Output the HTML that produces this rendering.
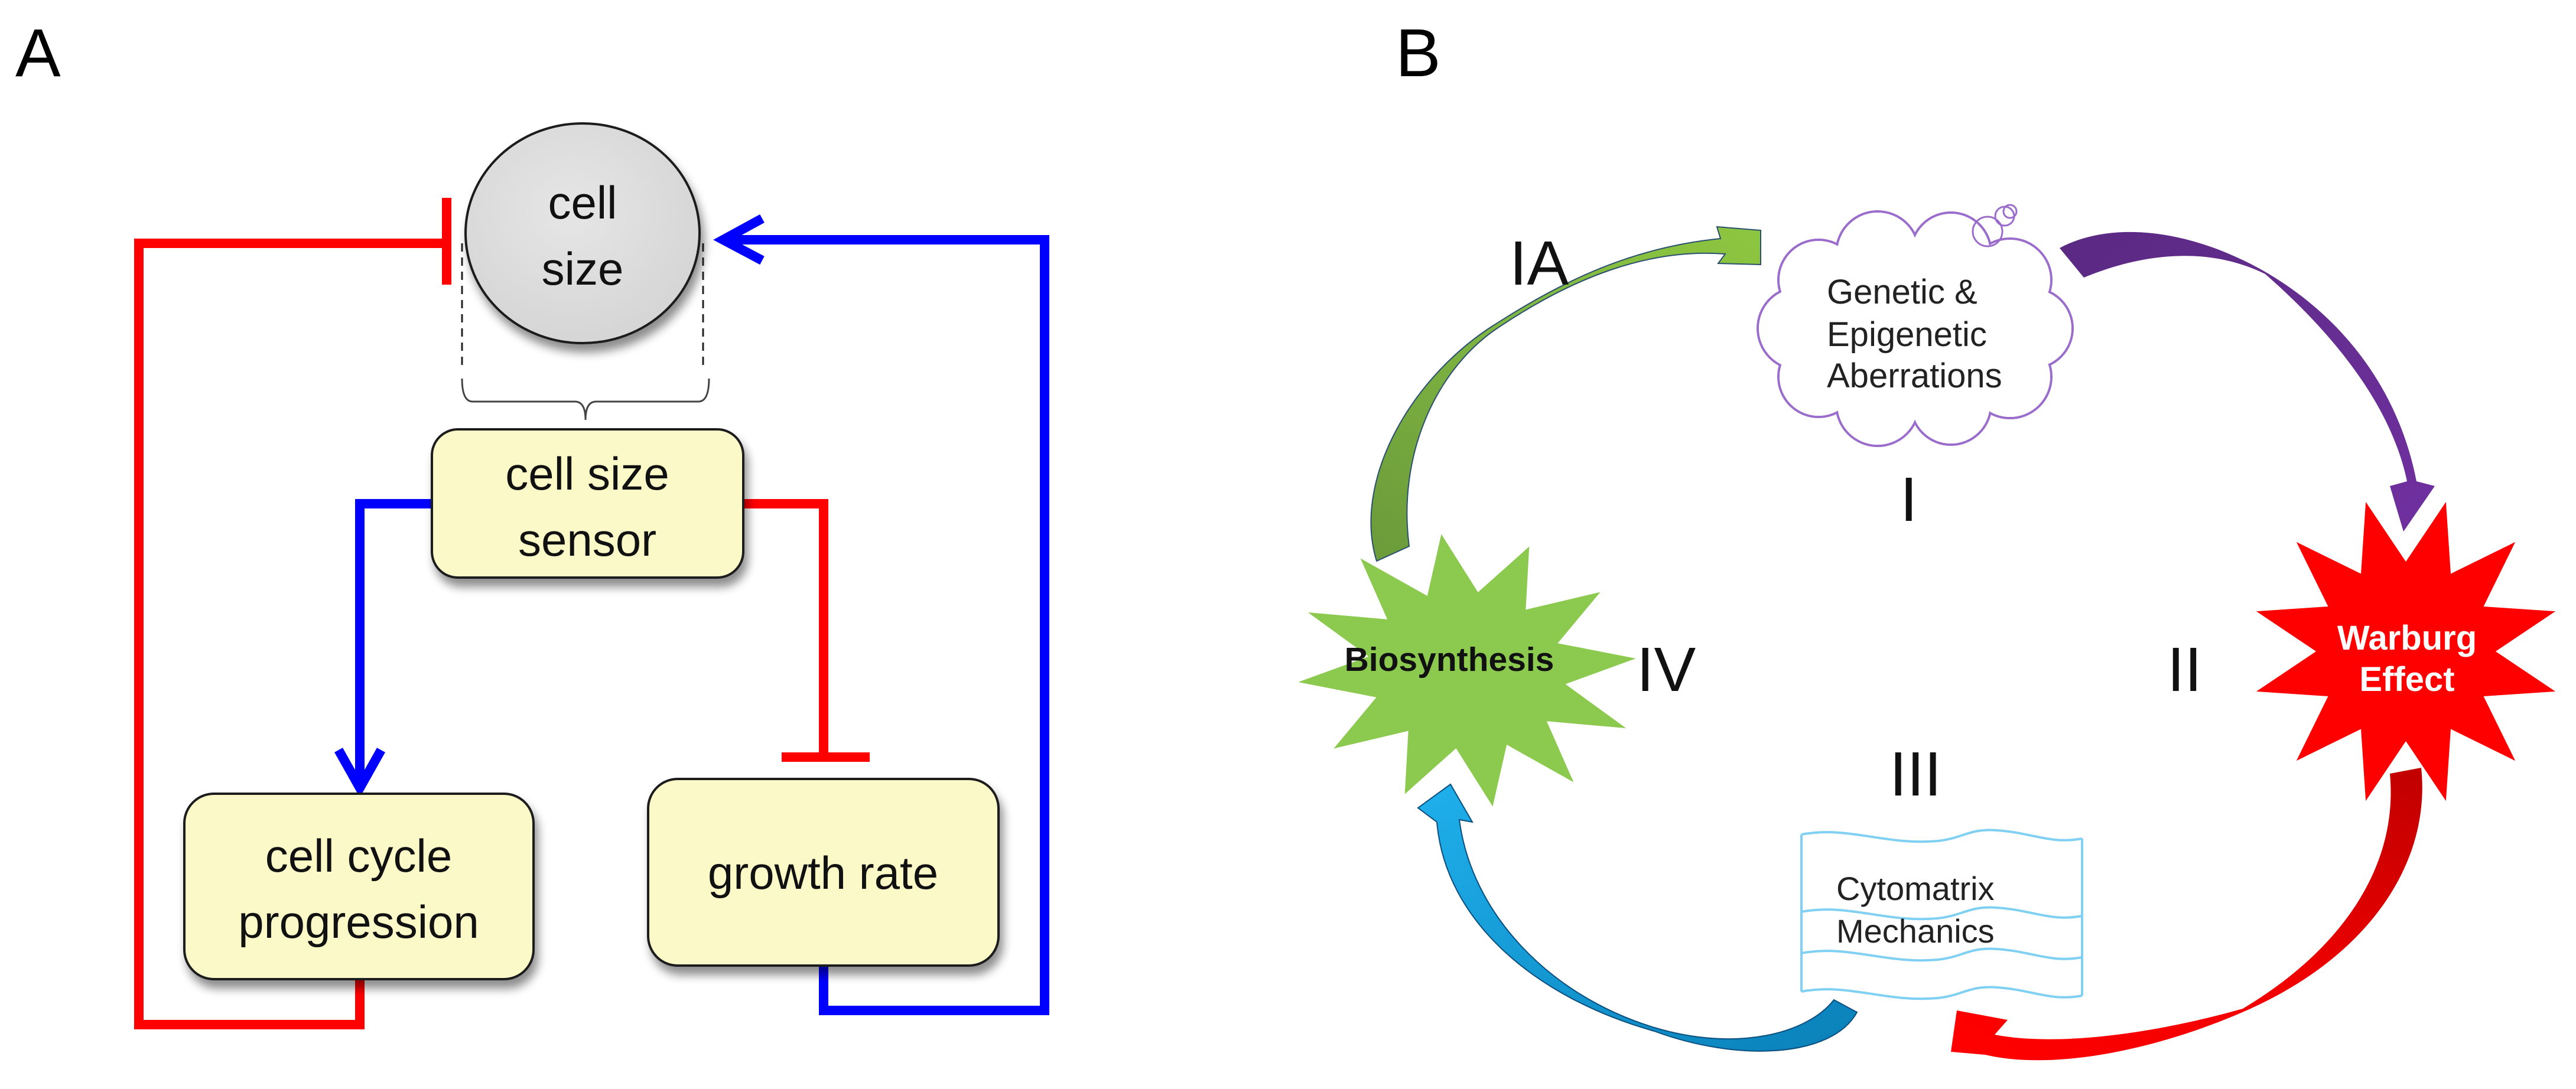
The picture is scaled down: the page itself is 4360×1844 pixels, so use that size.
<!DOCTYPE html>
<html><head><meta charset="utf-8"><style>
html,body{margin:0;padding:0;background:#fff;}
svg{display:block;}
</style></head><body>
<svg width="4360" height="1844" viewBox="0 0 4360 1844" xmlns="http://www.w3.org/2000/svg" font-family="Liberation Sans, Arial, sans-serif">
<defs>
<filter id="sh" x="-20%" y="-20%" width="140%" height="150%">
<feGaussianBlur in="SourceAlpha" stdDeviation="8"/><feOffset dx="6" dy="14" result="o"/>
<feComponentTransfer><feFuncA type="linear" slope="0.45"/></feComponentTransfer>
<feMerge><feMergeNode/><feMergeNode in="SourceGraphic"/></feMerge></filter>
<radialGradient id="cg" cx="45%" cy="40%" r="65%"><stop offset="0" stop-color="#e6e6e6"/><stop offset="1" stop-color="#d4d4d4"/></radialGradient>
<linearGradient id="gg" x1="0" y1="1" x2="1" y2="0"><stop offset="0" stop-color="#6b9a3a"/><stop offset="0.5" stop-color="#7fb542"/><stop offset="1" stop-color="#8dc63f"/></linearGradient>
<linearGradient id="pg" x1="0" y1="0" x2="1" y2="1"><stop offset="0" stop-color="#5a2a82"/><stop offset="1" stop-color="#7030a0"/></linearGradient>
<linearGradient id="rg" x1="1" y1="0" x2="0" y2="1"><stop offset="0" stop-color="#c00000"/><stop offset="0.5" stop-color="#f00000"/><stop offset="1" stop-color="#ff0000"/></linearGradient>
<linearGradient id="bg" x1="0" y1="0" x2="1" y2="1"><stop offset="0" stop-color="#1fb0ec"/><stop offset="1" stop-color="#0a80b8"/></linearGradient>
</defs>

<!-- Panel A -->
<text x="26" y="129" font-size="115" fill="#000">A</text>

<g fill="none" stroke-width="16">
<path d="M753,412 H235 V1735 H609 V1650" stroke="#ff0000"/>
<line x1="756" y1="335" x2="756" y2="482" stroke="#ff0000"/>
<path d="M1394,1630 V1711 H1768 V406 H1228" stroke="#0000ff"/>
<polyline points="1290,370 1224,406 1290,441" stroke="#0000ff" stroke-linejoin="miter"/>
<path d="M735,853 H609 V1332" stroke="#0000ff"/>
<polyline points="573,1270 609,1334 645,1270" stroke="#0000ff"/>
<path d="M1255,853 H1394 V1282" stroke="#ff0000"/>
<line x1="1323" y1="1282" x2="1472" y2="1282" stroke="#ff0000"/>
</g>

<g stroke="#222" stroke-width="3" fill="none">
<line x1="782" y1="412" x2="782" y2="623" stroke-dasharray="14 10"/>
<line x1="1190" y1="412" x2="1190" y2="623" stroke-dasharray="14 10"/>
<path d="M782,641 Q782,680 800,680 H973 Q991,680 991,711 Q991,680 1009,680 H1182 Q1200,680 1200,641" stroke="#444"/>
</g>

<ellipse cx="986" cy="395" rx="198" ry="186" fill="url(#cg)" stroke="#1a1a1a" stroke-width="4" filter="url(#sh)"/>
<g font-size="78" fill="#111" text-anchor="middle">
<text x="986" y="370">cell</text>
<text x="986" y="482">size</text>
</g>

<g fill="#fcf9c9" stroke="#1a1a1a" stroke-width="4" filter="url(#sh)">
<rect x="731" y="727" width="527" height="251" rx="44"/>
<rect x="312" y="1344" width="591" height="314" rx="50"/>
<rect x="1097" y="1319" width="593" height="316" rx="50"/>
</g>
<g font-size="78" fill="#111" text-anchor="middle">
<text x="994" y="829">cell size</text>
<text x="994" y="941">sensor</text>
<text x="607" y="1476">cell cycle</text>
<text x="607" y="1588">progression</text>
<text x="1393" y="1505">growth rate</text>
</g>

<!-- Panel B -->
<text x="2362" y="129" font-size="115" fill="#000">B</text>

<!-- cloud -->
<g stroke="#9a6ccc" stroke-width="4" fill="#fff">
<circle cx="3440" cy="556" r="68"/><circle cx="3402" cy="638" r="70"/><circle cx="3302" cy="685" r="68"/>
<circle cx="3178" cy="685" r="70"/><circle cx="3078" cy="638" r="68"/><circle cx="3045" cy="556" r="70"/>
<circle cx="3078" cy="474" r="68"/><circle cx="3178" cy="428" r="70"/><circle cx="3302" cy="428" r="68"/>
<circle cx="3402" cy="474" r="70"/>
</g>
<g fill="#fff">
<circle cx="3440" cy="556" r="66"/><circle cx="3402" cy="638" r="68"/><circle cx="3302" cy="685" r="66"/>
<circle cx="3178" cy="685" r="68"/><circle cx="3078" cy="638" r="66"/><circle cx="3045" cy="556" r="68"/>
<circle cx="3078" cy="474" r="66"/><circle cx="3178" cy="428" r="68"/><circle cx="3302" cy="428" r="66"/>
<circle cx="3402" cy="474" r="68"/>
<ellipse cx="3240" cy="556" rx="200" ry="140"/>
</g>
<g stroke="#9a6ccc" stroke-width="3" fill="none">
<circle cx="3364" cy="392" r="25"/><circle cx="3393" cy="366" r="16"/><circle cx="3402" cy="358" r="11"/>
</g>
<g font-size="58" fill="#222">
<text x="3092" y="514">Genetic &amp;</text>
<text x="3092" y="586">Epigenetic</text>
<text x="3092" y="656">Aberrations</text>
</g>

<!-- document -->
<g stroke="#7fd0f2" stroke-width="4" fill="none">
<path d="M3049,1413 C3130,1398 3190,1432 3280,1424 C3320,1420 3335,1402 3380,1406 C3440,1410 3470,1430 3524,1420"/>
<path d="M3049,1544 C3130,1529 3190,1563 3280,1555 C3320,1551 3335,1533 3380,1537 C3440,1541 3470,1561 3524,1551"/>
<path d="M3049,1614 C3130,1599 3190,1633 3280,1625 C3320,1621 3335,1603 3380,1607 C3440,1611 3470,1631 3524,1621"/>
<path d="M3049,1679 C3130,1664 3190,1698 3280,1690 C3320,1686 3335,1668 3380,1672 C3440,1676 3470,1696 3524,1686"/>
<line x1="3049" y1="1413" x2="3049" y2="1679"/>
<line x1="3524" y1="1420" x2="3524" y2="1686"/>
</g>
<g font-size="56" fill="#222">
<text x="3108" y="1524">Cytomatrix</text>
<text x="3108" y="1596">Mechanics</text>
</g>

<!-- stars -->
<polygon transform="translate(4072,1103) scale(2.62,2.62)" fill="#ff0000"
points="25.9,-96.6 29,-50.2 70.7,-70.7 50.2,-29 96.6,-25.9 58,0 96.6,25.9 50.2,29 70.7,70.7 29,50.2 25.9,96.6 0,58 -25.9,96.6 -29,50.2 -70.7,70.7 -50.2,29 -96.6,25.9 -58,0 -96.6,-25.9 -50.2,-29 -70.7,-70.7 -29,-50.2 -25.9,-96.6 0,-58"/>
<polygon transform="translate(2483,1135) rotate(8) scale(2.9,2.3)" fill="#8cc94f"
points="25.9,-96.6 29,-50.2 70.7,-70.7 50.2,-29 96.6,-25.9 58,0 96.6,25.9 50.2,29 70.7,70.7 29,50.2 25.9,96.6 0,58 -25.9,96.6 -29,50.2 -70.7,70.7 -50.2,29 -96.6,25.9 -58,0 -96.6,-25.9 -50.2,-29 -70.7,-70.7 -29,-50.2 -25.9,-96.6 0,-58"/>
<text x="4074" y="1100" font-size="58" font-weight="bold" fill="#fff" text-anchor="middle">Warburg</text>
<text x="4074" y="1170" font-size="58" font-weight="bold" fill="#fff" text-anchor="middle">Effect</text>
<text x="2453" y="1136" font-size="57" font-weight="bold" fill="#111" text-anchor="middle">Biosynthesis</text>

<!-- curved arrows (tapered) -->
<path d="M2330,950 C2290,820 2380,650 2520,556 C2630,485 2750,420 2912,404 L2906,384 L2980,390 L2980,448 L2908,446 L2920,430 C2790,420 2660,470 2528,560 C2430,630 2365,770 2385,925 Z" fill="url(#gg)" stroke="#2a5070" stroke-width="2"/>
<path d="M3486,420 C3570,375 3700,385 3830,458 C3965,535 4060,660 4090,815 L4121,823 L4068,900 L4045,823 L4074,815 C4048,690 3955,570 3834,464 C3720,408 3600,440 3527,470 Z" fill="url(#pg)"/>
<path d="M4045,1310 L4098,1300 C4115,1460 4010,1620 3800,1712 C3640,1782 3470,1812 3360,1786 L3302,1781 L3312,1711 L3398,1727 L3376,1752 C3480,1772 3640,1752 3796,1708 C3960,1610 4060,1470 4045,1310 Z" fill="url(#rg)"/>
<path d="M2432,1392 L2400,1368 L2455,1328 L2492,1392 L2470,1388 C2490,1545 2620,1685 2800,1740 C2940,1782 3060,1750 3104,1693 L3143,1714 C3100,1792 2940,1798 2800,1746 C2600,1690 2446,1560 2432,1392 Z" fill="url(#bg)" stroke="#0b4f80" stroke-width="2"/>

<!-- numerals -->
<g font-size="106" fill="#111">
<text x="2555" y="482">IA</text>
<text x="3216" y="882">I</text>
<text x="3668" y="1170">II</text>
<text x="3198" y="1347">III</text>
<text x="2770" y="1170">IV</text>
</g>
</svg>
</body></html>
